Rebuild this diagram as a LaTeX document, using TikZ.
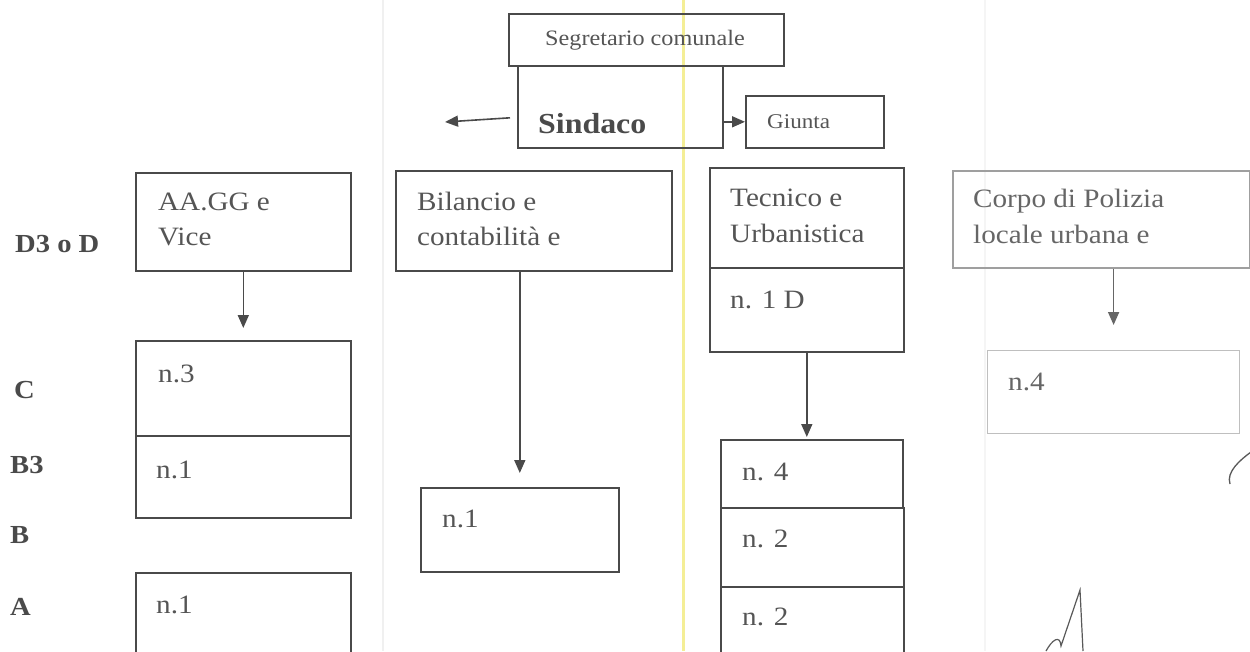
\documentclass[tikz,border=0pt]{standalone}
\usepackage{fontspec}
\setmainfont{Liberation Serif}[FakeStretch=1.1]
\usetikzlibrary{arrows.meta}
\definecolor{ink}{HTML}{4A4A4A}
\definecolor{txtc}{HTML}{555555}
\definecolor{scanyellow}{HTML}{F4EE96}
\begin{document}
\begin{tikzpicture}[x=1pt,y=-1pt,
  box/.style={draw=ink, line width=1.6pt, rectangle, inner sep=0pt, anchor=north west},
  lightbox/.style={box, draw=gray!50, line width=1.2pt},
  txt/.style={anchor=base west, inner sep=0pt, text=txtc, font=\fontsize{26.5}{30}\selectfont},
  lvl/.style={anchor=base west, inner sep=0pt, text=ink, font=\fontsize{26}{30}\selectfont\bfseries},
  arr/.style={draw=ink, line width=1.6pt, -{Triangle[length=13pt,width=11pt]}},
  scan/.style={line width=1.5pt}]
\useasboundingbox (0,0) rectangle (1250,651);
\clip (0,0) rectangle (1250,651);
\fill[white] (0,0) rectangle (1250,651);
% scan artefacts
\draw[scan, gray!12] (383,0) -- (383,651);
\draw[scan, gray!8] (985,0) -- (985,651);
\draw[scan, scanyellow, line width=3pt] (683,0) -- (683,651);

% top
\node[box, minimum width=205pt, minimum height=82pt] (sin) at (517,65) {};
\node[box, minimum width=275pt, minimum height=52pt] (seg) at (508,13) {};
\node[box, minimum width=138pt, minimum height=52pt] (giu) at (745,95) {};
\node[anchor=base, inner sep=0pt, text=txtc, font=\fontsize{22}{26}\selectfont] (segt) at (645,45) {Segretario comunale};
\node[anchor=base west, inner sep=0pt, text=ink, font=\fontsize{29}{32}\selectfont\bfseries] (sint) at (538,133) {Sindaco};
\node[anchor=base west, inner sep=0pt, text=txtc, font=\fontsize{21}{24}\selectfont] (giut) at (767,128) {Giunta};
\coordinate (lt) at (445,122);
\draw[arr] ([xshift=-7pt,yshift=-11pt]sin.west) -- (lt);
\draw[arr] (sin.east |- giu.west) -- (giu.west);

% level labels
\node[lvl] (lD) at (15,252) {D3 o D};
\node[lvl] (lC) at (14,398) {C};
\node[lvl] (lB3) at (10,473) {B3};
\node[lvl] (lB) at (10,543) {B};
\node[lvl] (lA) at (10,615) {A};

% column 1
\node[box, minimum width=215pt, minimum height=98pt] (aagg) at (135,172) {};
\node[txt] (aagg1) at (158,210) {AA.GG e};
\node[txt] (aagg2) at (158,245) {Vice};
\node[box, minimum width=215pt, minimum height=95pt] (c3) at (135,340) {};
\node[txt] (c3t) at (158,382) {n.3};
\node[box, minimum width=215pt, minimum height=82pt] (b3) at (135,435) {};
\node[txt] (b3t) at (156,478) {n.1};
\node[box, minimum width=215pt, minimum height=100pt] (a1) at (135,572) {};
\node[txt] (a1t) at (156,613) {n.1};
\draw[arr, shorten >=12pt] (aagg.south) -- (c3.north);

% column 2
\node[box, minimum width=276pt, minimum height=100pt] (bil) at (395,170) {};
\node[txt] (bil1) at (417,210) {Bilancio e};
\node[txt] (bil2) at (417,245) {contabilità e};
\node[box, minimum width=198pt, minimum height=84pt] (bch) at (420,487) {};
\node[txt] (bcht) at (442,527) {n.1};
\draw[arr, shorten >=14pt] (bil.south -| bch.north) -- (bch.north);

% column 3
\node[box, minimum width=194pt, minimum height=100pt] (tec) at (709,167) {};
\node[txt] (tec1) at (730,206) {Tecnico e};
\node[txt] (tec2) at (730,242) {Urbanistica};
\node[box, minimum width=194pt, minimum height=84pt] (n1d) at (709,267) {};
\node[txt] (n1dt) at (730,308) {n. 1 D};
\node[box, minimum width=182pt, minimum height=68pt] (t4) at (720,439) {};
\node[txt] (t4t) at (742,480) {n. 4};
\node[box, minimum width=183pt, minimum height=79pt] (t2a) at (720,507) {};
\node[txt] (t2at) at (742,547) {n. 2};
\node[box, minimum width=183pt, minimum height=90pt] (t2b) at (720,586) {};
\node[txt] (t2bt) at (742,625) {n. 2};
\draw[arr, shorten >=2pt] (n1d.south) -- (n1d.south |- t4.north);

% column 4
\node[box, draw=gray!75, minimum width=297pt, minimum height=97pt] (cor) at (952,170) {};
\node[txt, text=gray!80!black] (cor1) at (973,207) {Corpo di Polizia};
\node[txt, text=gray!80!black] (cor2) at (973,243) {locale urbana e};
\node[lightbox, minimum width=252pt, minimum height=83pt] (cn4) at (987,350) {};
\node[txt, text=gray!80!black] (cn4t) at (1008,390) {n.4};
\draw[arr, draw=gray!80!black, shorten >=25pt] (cn4.north |- cor.south) -- (cn4.north);

% handwritten marks
\draw[gray!70!black, line width=1.3pt] (1251,452) .. controls (1240,460) and (1226,472) .. (1230,484);
\draw[gray!70!black, line width=1.2pt] (1046,651) .. controls (1052,640) and (1060,634) .. (1061,646) -- (1080,590) -- (1083,651);
\end{tikzpicture}
\end{document}
